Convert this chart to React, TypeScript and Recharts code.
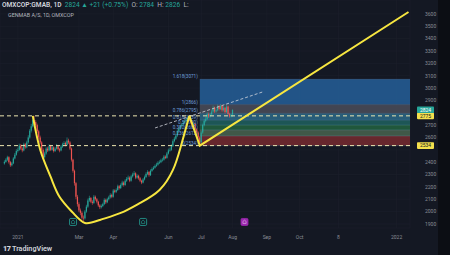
import React from 'react';
import { ComposedChart, Bar, Line, XAxis, YAxis, CartesianGrid, ReferenceLine, ReferenceArea, ReferenceDot } from 'recharts';

// daily bars, index 0 = mid Dec 2020, one step per trading day
const FIRST_BAR = 3;
const FIRST_OPEN = 2390;

const closes = [
  2402, 2420, 2440, 2400, 2375, 2390, 2430, 2460, 2490, 2500,
  2535, 2510, 2495, 2545, 2520, 2560, 2600, 2655, 2690, 2740,
  2725, 2700, 2650, 2600, 2560, 2500, 2440, 2470, 2510, 2495,
  2530, 2500, 2520, 2490, 2510, 2530, 2505, 2495, 2525, 2545,
  2555, 2540, 2575, 2560, 2510, 2420, 2330, 2230, 2120, 2060,
  2010, 1990, 1950, 1945, 2000, 2040, 2090, 2110, 2080, 2070,
  2120, 2100, 2080, 2050, 2035, 2045, 2060, 2095, 2075, 2100,
  2115, 2135, 2120, 2170, 2160, 2175, 2205, 2190, 2215, 2235,
  2215, 2250, 2265, 2275, 2250, 2285, 2300, 2310, 2275, 2290,
  2270, 2250, 2235, 2260, 2280, 2305, 2320, 2295, 2330, 2345,
  2355, 2370, 2380, 2395, 2400, 2415, 2420, 2445, 2435, 2470,
  2495, 2500, 2530, 2570, 2590, 2615, 2650, 2670, 2690, 2705,
  2720, 2735, 2745, 2760, 2740, 2720, 2695, 2710, 2665, 2640,
  2600, 2560, 2640, 2700, 2735, 2750, 2790, 2770, 2785, 2810,
  2840, 2810, 2820, 2850, 2830, 2855, 2820, 2840, 2805, 2850,
  2790, 2770, 2784, 2824,
];

const highs = [
  2415, 2432, 2452, 2448, 2410, 2402, 2441, 2475, 2505, 2518,
  2550, 2548, 2522, 2558, 2556, 2574, 2618, 2668, 2710, 2760,
  2775, 2740, 2712, 2662, 2615, 2570, 2512, 2485, 2522, 2525,
  2545, 2540, 2534, 2528, 2522, 2548, 2540, 2515, 2538, 2558,
  2570, 2566, 2600, 2590, 2570, 2518, 2428, 2340, 2240, 2135,
  2075, 2025, 2002, 1968, 2012, 2055, 2105, 2128, 2118, 2092,
  2135, 2130, 2110, 2088, 2060, 2058, 2072, 2108, 2105, 2112,
  2128, 2148, 2145, 2182, 2180, 2188, 2218, 2215, 2228, 2250,
  2245, 2262, 2280, 2292, 2285, 2298, 2315, 2328, 2318, 2302,
  2298, 2280, 2258, 2272, 2292, 2318, 2335, 2328, 2342, 2358,
  2368, 2382, 2395, 2408, 2415, 2428, 2435, 2458, 2455, 2482,
  2510, 2518, 2545, 2585, 2605, 2630, 2665, 2685, 2705, 2720,
  2735, 2750, 2760, 2770, 2775, 2752, 2730, 2722, 2718, 2675,
  2650, 2610, 2652, 2712, 2750, 2768, 2805, 2802, 2800, 2825,
  2858, 2850, 2835, 2866, 2862, 2870, 2862, 2855, 2848, 2862,
  2858, 2800, 2792, 2826,
];

const lows = [
  2380, 2395, 2410, 2388, 2362, 2366, 2384, 2422, 2452, 2478,
  2492, 2498, 2480, 2488, 2508, 2512, 2550, 2590, 2640, 2680,
  2705, 2685, 2635, 2585, 2545, 2485, 2425, 2430, 2460, 2482,
  2488, 2490, 2492, 2478, 2482, 2502, 2494, 2480, 2488, 2515,
  2535, 2528, 2532, 2548, 2498, 2405, 2315, 2210, 2100, 2040,
  1995, 1970, 1935, 1918, 1935, 1990, 2030, 2078, 2068, 2055,
  2062, 2088, 2066, 2038, 2020, 2025, 2036, 2052, 2062, 2068,
  2090, 2105, 2108, 2112, 2148, 2150, 2168, 2178, 2182, 2205,
  2202, 2208, 2240, 2255, 2238, 2242, 2275, 2290, 2262, 2265,
  2258, 2238, 2222, 2228, 2252, 2272, 2295, 2282, 2288, 2322,
  2336, 2348, 2362, 2372, 2385, 2392, 2405, 2412, 2425, 2428,
  2462, 2485, 2492, 2522, 2560, 2580, 2605, 2640, 2660, 2680,
  2695, 2710, 2725, 2735, 2730, 2708, 2682, 2685, 2652, 2625,
  2585, 2534, 2550, 2630, 2690, 2722, 2740, 2758, 2760, 2775,
  2800, 2798, 2800, 2812, 2818, 2822, 2808, 2810, 2792, 2798,
  2780, 2760, 2762, 2766,
];

const timeTicks = [12, 53, 76, 113, 135, 156, 179, 201, 227, 266];
const timeLabels = ['2021', 'Mar', 'Apr', 'Jun', 'Jul', 'Aug', 'Sep', 'Oct', '8', '2022'];
const priceTicks = [1900, 2000, 2100, 2200, 2300, 2400, 2500, 2600, 2700, 2800, 2900, 3000, 3100, 3200, 3300, 3400, 3500, 3600];
// labels covered by the price tags on the axis
const hiddenPriceLabels = [2500, 2800];

// fibonacci extension box
const FIB_START = 134;
const FIB_END = 275;
const fibRatios = ['1.618', '1', '0.786', '0.618', '0.5', '0.382', '0.236', '0'];
const fibPrices = [3071, 2866, 2795, 2739, 2700, 2661, 2612, 2534];
const fibFills = ['#245f99', '#4a4e5b', '#2b6a88', '#1f625f', '#22633f', '#48644f', '#762a2f'];

// drawings
const cupPoints = [
  { i: 22, p: 2775 }, { i: 27, p: 2499 }, { i: 34, p: 2280 }, { i: 40, p: 2118 },
  { i: 49, p: 1989 }, { i: 57, p: 1908 }, { i: 67, p: 1932 }, { i: 81, p: 1989 },
  { i: 94, p: 2070 }, { i: 107, p: 2175 }, { i: 116, p: 2337 }, { i: 121, p: 2515 },
  { i: 127, p: 2775 },
];
const handlePoints = [{ i: 127, p: 2775 }, { i: 134, p: 2534 }, { i: 274, p: 3616 }];
const channelPoints = [{ i: 104, p: 2677 }, { i: 176, p: 2968 }];
const earningsTeal = [49, 96];
const earningsPurple = [164];

const candles = closes.map((c, k) => {
  const o = k === 0 ? FIRST_OPEN : closes[k - 1];
  return { i: FIRST_BAR + k, o, c, h: highs[k], l: lows[k], range: [lows[k], highs[k]] };
});

const UP = '#26a69a';
const DOWN = '#ef5350';
const YELLOW = '#f7e640';
const AXIS_TEXT = '#8a8d96';
const FONT = 'Roboto, "Liberation Sans", sans-serif';

const Candle = (props: any) => {
  const { x, y, width, height, payload } = props;
  if (!payload) return null;
  const { o, c, h, l } = payload;
  const top = Math.min(y, y + height);
  const hh = Math.abs(height);
  const k = hh / (h - l || 1);
  const cx = x + width / 2;
  const color = c >= o ? UP : DOWN;
  const bodyTop = top + (h - Math.max(o, c)) * k;
  const bodyH = Math.max(Math.abs(o - c) * k, 0.7);
  return (
    <g>
      <line x1={cx} x2={cx} y1={top} y2={top + hh} stroke={color} strokeWidth={0.6} />
      <rect x={cx - 0.6} y={bodyTop} width={1.2} height={bodyH} fill={color} />
    </g>
  );
};

const PriceTick = (props: any) => {
  const { x, y, payload } = props;
  if (hiddenPriceLabels.includes(payload.value)) return null;
  return (
    <text x={x + 7} y={y} dy={1.8} fontSize={5} fill={AXIS_TEXT} fontFamily={FONT}>
      {payload.value}
    </text>
  );
};

const TimeTick = (props: any) => {
  const { x, y, payload } = props;
  const idx = timeTicks.indexOf(payload.value);
  return (
    <text x={x} y={y} dy={3} textAnchor="middle" fontSize={5} fill={AXIS_TEXT} fontFamily={FONT}>
      {timeLabels[idx]}
    </text>
  );
};

const priceTag = (value: number, bg: string, fg: string) => (props: any) => {
  const vb = props.viewBox || {};
  const right = vb.x + vb.width;
  return (
    <g>
      <rect x={right + 7} y={vb.y - 3.3} width={17} height={6.6} fill={bg} rx={0.8} />
      <text x={right + 15.5} y={vb.y} dy={1.8} textAnchor="middle" fontSize={5} fill={fg} fontFamily={FONT}>
        {value}
      </text>
    </g>
  );
};

const fibLabel = (ratio: string, price: number) => (props: any) => {
  const vb = props.viewBox || {};
  return (
    <text x={vb.x - 2} y={vb.y - 1} textAnchor="end" fontSize={4.6} fill="#6f9fdc" fontFamily={FONT}>
      {`${ratio}(${price})`}
    </text>
  );
};

const EarnIcon = (color: string, filled: boolean) => (props: any) => {
  const { cx, cy } = props;
  return (
    <g>
      <rect x={cx - 3.5} y={cy - 3.5} width={7} height={7} rx={1.2}
        fill={filled ? color : '#131722'} stroke={color} strokeWidth={0.8} />
      <path d={`M${cx - 1.6} ${cy + 1.5} L${cx - 1.6} ${cy - 0.5} L${cx} ${cy - 1.8} L${cx + 1.6} ${cy - 0.5} L${cx + 1.6} ${cy + 1.5} Z`}
        fill="none" stroke={filled ? '#e1bee7' : color} strokeWidth={0.6} />
    </g>
  );
};

export default function App() {
  return (
    <div style={{ position: 'fixed', left: 0, top: 0, width: 450, height: 255, background: '#0c0e14', overflow: 'hidden', fontFamily: FONT }}>
      <div style={{ position: 'absolute', left: 0, top: 0, width: 438, height: 255, background: '#141823' }} />
      <div style={{ position: 'absolute', left: 0, top: 0 }}>
        <ComposedChart width={438} height={240} data={candles} margin={{ top: 0, right: 0, bottom: 0, left: 0 }}>
          <CartesianGrid stroke="#1c202b" strokeWidth={0.6} />
          <XAxis dataKey="i" type="number" domain={[0, 275]} ticks={timeTicks} interval={0}
            allowDataOverflow axisLine={false} tickLine={false} height={12} tick={<TimeTick />} />
          <YAxis orientation="right" type="number" domain={[1867, 3713]} ticks={priceTicks} interval={0}
            allowDataOverflow axisLine={false} tickLine={false} width={28} tick={<PriceTick />} />

          {fibFills.map((fill, k) => (
            <ReferenceArea key={`fa${k}`} x1={FIB_START} x2={FIB_END} y1={fibPrices[k + 1]} y2={fibPrices[k]}
              fill={fill} fillOpacity={0.85} stroke="none" ifOverflow="hidden" />
          ))}
          {fibPrices.map((p, k) => (
            <ReferenceLine key={`fl${k}`} segment={[{ x: FIB_START, y: p }, { x: FIB_END, y: p }]}
              stroke="#7fa7d8" strokeOpacity={0.35} strokeWidth={0.6} label={fibLabel(fibRatios[k], p)} />
          ))}

          <Bar dataKey="range" barSize={1.5} shape={<Candle />} isAnimationActive={false} />

          <ReferenceLine y={2775} stroke="#ece6b0" strokeWidth={1} strokeDasharray="4 3" label={priceTag(2775, '#f4e04d', '#131722')} />
          <ReferenceLine y={2534} stroke="#ece6b0" strokeWidth={1} strokeDasharray="4 3" label={priceTag(2534, '#f4e04d', '#131722')} />
          <ReferenceLine y={2824} stroke="none" label={priceTag(2824, '#26a69a', '#ffffff')} />

          <Line data={channelPoints} dataKey="p" type="linear" stroke="#d4d7de" strokeWidth={0.8}
            strokeDasharray="3 2" dot={false} activeDot={false} isAnimationActive={false} />
          <Line data={cupPoints} dataKey="p" type="natural" stroke={YELLOW} strokeWidth={2}
            dot={false} activeDot={false} isAnimationActive={false} />
          <Line data={handlePoints} dataKey="p" type="linear" stroke={YELLOW} strokeWidth={2}
            dot={false} activeDot={false} isAnimationActive={false} />

          {earningsTeal.map((i) => (
            <ReferenceDot key={`et${i}`} x={i} y={1916} r={3} shape={EarnIcon('#26a69a', false)} />
          ))}
          {earningsPurple.map((i) => (
            <ReferenceDot key={`ep${i}`} x={i} y={1916} r={3} shape={EarnIcon('#9c27b0', true)} />
          ))}
        </ComposedChart>
      </div>

      <div style={{ position: 'absolute', left: 2, top: 1, fontSize: 6.6, whiteSpace: 'nowrap', color: '#d1d4dc', lineHeight: '8px' }}>
        <span style={{ fontWeight: 600 }}>OMXCOP:GMAB, 1D</span>
        <span style={{ color: '#26a69a' }}>&nbsp; 2824 ▲ +21 (+0.75%)</span>
        <span style={{ color: '#b2b5be' }}>&nbsp; O: </span><span style={{ color: '#26a69a' }}>2784</span>
        <span style={{ color: '#b2b5be' }}>&nbsp; H: </span><span style={{ color: '#26a69a' }}>2826</span>
        <span style={{ color: '#b2b5be' }}>&nbsp; L:</span>
      </div>
      <div style={{ position: 'absolute', left: 8, top: 12, fontSize: 5.4, whiteSpace: 'nowrap', color: '#b2b5be', lineHeight: '7px' }}>
        GENMAB A/S, 1D, OMXCOP
      </div>
      <div style={{ position: 'absolute', left: 3, top: 244, fontSize: 7.2, whiteSpace: 'nowrap', color: '#d1d4dc', lineHeight: '10px', fontWeight: 600 }}>
        <span style={{ fontWeight: 900, letterSpacing: -0.5 }}>17</span> TradingView
      </div>
    </div>
  );
}
